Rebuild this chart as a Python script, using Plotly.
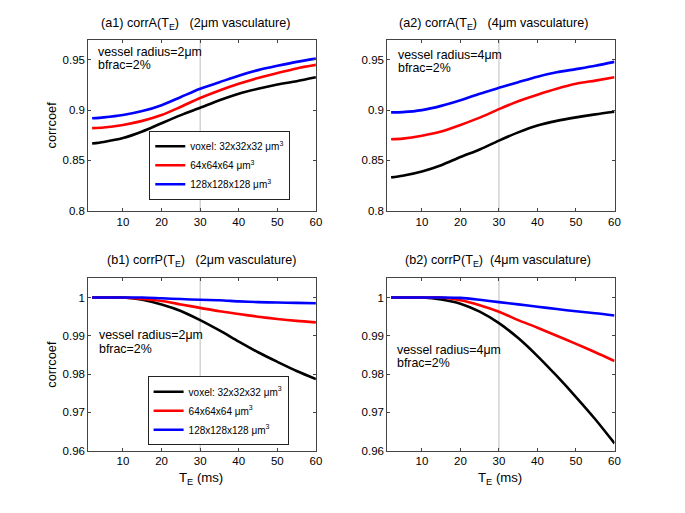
import plotly.graph_objects as go

# ---------------- data ----------------
TE = [2, 5, 10, 15, 20, 25, 30, 35, 40, 45, 50, 55, 60]
XTICKS = [10, 20, 30, 40, 50, 60]
REF_TE = 30

SERIES_NAMES = ["voxel: 32x32x32 \u03bcm<sup>3</sup>",
                "64x64x64 \u03bcm<sup>3</sup>",
                "128x128x128 \u03bcm<sup>3</sup>"]

# (a1) corrA, 2um vasculature
a1_v32 = [0.8668, 0.8684, 0.8723, 0.8788, 0.8870, 0.8950, 0.9023, 0.9098, 0.9163, 0.9212, 0.9254, 0.9287, 0.9326]
a1_v64 = [0.8821, 0.8827, 0.8853, 0.8893, 0.8951, 0.9033, 0.9120, 0.9195, 0.9261, 0.9319, 0.9368, 0.9414, 0.9449]
a1_v128 = [0.8919, 0.8928, 0.8951, 0.8990, 0.9049, 0.9130, 0.9212, 0.9277, 0.9342, 0.9397, 0.9440, 0.9479, 0.9511]

# (a2) corrA, 4um vasculature
a2_v32 = [0.8332, 0.8349, 0.8391, 0.8453, 0.8534, 0.8609, 0.8697, 0.8779, 0.8847, 0.8893, 0.8928, 0.8958, 0.8984]
a2_v64 = [0.8710, 0.8717, 0.8746, 0.8788, 0.8853, 0.8925, 0.9010, 0.9088, 0.9153, 0.9212, 0.9261, 0.9293, 0.9326]
a2_v128 = [0.8977, 0.8980, 0.9000, 0.9042, 0.9098, 0.9163, 0.9221, 0.9277, 0.9332, 0.9375, 0.9407, 0.9440, 0.9479]

# (b1) corrP, 2um vasculature
b1_v32 = [1.0, 1.0, 1.0, 0.9994, 0.9982, 0.9965, 0.9941, 0.9914, 0.9885, 0.9857, 0.9832, 0.9808, 0.9787]
b1_v64 = [1.0, 1.0, 1.0, 0.9996, 0.9991, 0.9982, 0.9973, 0.9964, 0.9957, 0.9950, 0.9944, 0.9939, 0.9935]
b1_v128 = [1.0, 1.0, 1.0, 1.0, 0.9998, 0.9996, 0.9994, 0.9993, 0.9990, 0.9988, 0.9987, 0.9986, 0.9985]

# (b2) corrP, 4um vasculature
b2_v32 = [1.0, 1.0, 1.0, 0.9995, 0.9984, 0.9963, 0.9933, 0.9894, 0.9847, 0.9795, 0.9740, 0.9682, 0.9619]
b2_v64 = [1.0, 1.0, 1.0, 1.0, 0.9993, 0.9980, 0.9963, 0.9941, 0.9921, 0.9900, 0.9879, 0.9857, 0.9834]
b2_v128 = [1.0, 1.0, 1.0, 1.0, 0.9999, 0.9994, 0.9988, 0.9982, 0.9976, 0.9970, 0.9964, 0.9959, 0.9953]

A_TICKS = [0.8, 0.85, 0.9, 0.95]
A_TICKTEXT = ["0.8", "0.85", "0.9", "0.95"]
P_TICKS = [0.96, 0.97, 0.98, 0.99, 1.0]
P_TICKTEXT = ["0.96", "0.97", "0.98", "0.99", "1"]

COLORS = ["#000000", "#ff0000", "#0000ff"]
FONT = "Arial, 'Liberation Sans', sans-serif"

# The page body has a default 8px margin; the figure is sized so that it
# fits the 685x513 window and positions are given in window pixels.
OFF = 8
FW, FH = 685 - 2 * OFF, 513 - 2 * OFF


def px_x(px):
    return (px - OFF) / FW


def px_y(py):
    return 1 - (py - OFF) / FH


# panel pixel boxes in window coordinates (left, right, top, bottom)
panels = {
    "a1": (89, 318.7, 40, 213.3),
    "a2": (390.7, 620, 40, 213.3),
    "b1": (89, 318.7, 281.7, 456),
    "b2": (390.7, 620, 281.7, 456),
}

fig = go.Figure()

panel_data = [
    ("a1", "x", "y", [a1_v32, a1_v64, a1_v128], "legend"),
    ("a2", "x2", "y2", [a2_v32, a2_v64, a2_v128], None),
    ("b1", "x3", "y3", [b1_v32, b1_v64, b1_v128], "legend2"),
    ("b2", "x4", "y4", [b2_v32, b2_v64, b2_v128], None),
]

for key, xa, ya, series, leg in panel_data:
    for name, vals, col in zip(SERIES_NAMES, series, COLORS):
        fig.add_trace(go.Scatter(
            x=TE, y=vals, mode="lines", name=name,
            line=dict(color=col, width=2.6, shape="spline", smoothing=0.8),
            xaxis=xa, yaxis=ya,
            showlegend=leg is not None,
            legend=leg if leg else "legend",
        ))

axis_common = dict(
    showline=True, linecolor="#444", linewidth=1, mirror="ticks",
    ticks="inside", ticklen=3, tickcolor="#444",
    showgrid=False, zeroline=False,
    tickfont=dict(family=FONT, size=11.5, color="#000"),
)

layout = dict(
    width=FW, height=FH,
    margin=dict(l=0, r=0, t=0, b=0),
    paper_bgcolor="white", plot_bgcolor="white",
    font=dict(family=FONT, size=12, color="#000"),
)

names = [("a1", "xaxis", "yaxis", "x", "y", "A"),
         ("a2", "xaxis2", "yaxis2", "x2", "y2", "A"),
         ("b1", "xaxis3", "yaxis3", "x3", "y3", "P"),
         ("b2", "xaxis4", "yaxis4", "x4", "y4", "P")]

for key, xn, yn, xr, yr, kind in names:
    l, r, t, b = panels[key]
    layout[xn] = dict(axis_common, domain=[px_x(l), px_x(r)], range=[1, 60],
                      tickvals=XTICKS, anchor=yr)
    if kind == "A":
        layout[yn] = dict(axis_common, domain=[px_y(b), px_y(t)], range=[0.8, 0.97],
                          tickvals=A_TICKS, ticktext=A_TICKTEXT, anchor=xr)
    else:
        layout[yn] = dict(axis_common, domain=[px_y(b), px_y(t)], range=[0.96, 1.005],
                          tickvals=P_TICKS, ticktext=P_TICKTEXT, anchor=xr)

legend_common = dict(
    bgcolor="white", bordercolor="#222", borderwidth=1,
    font=dict(family=FONT, size=10, color="#000"),
    xanchor="center", yanchor="middle", tracegroupgap=0,
    itemwidth=30,
)
layout["legend"] = dict(legend_common, x=px_x(221.7), y=px_y(167.2))
layout["legend2"] = dict(legend_common, x=px_x(220), y=px_y(415.7))

fig.update_layout(**layout)

# reference line at TE = 30 in each panel
for xr, yr in [("x", "y"), ("x2", "y2"), ("x3", "y3"), ("x4", "y4")]:
    fig.add_shape(type="line", xref=xr, yref=yr + " domain",
                  x0=REF_TE, x1=REF_TE, y0=0, y1=1,
                  line=dict(color="#bdbdbd", width=1), layer="below")

NB = "\u00a0"
titles = [
    ("(a1) corrA(T<sub>E</sub>)" + NB * 3 + "(2\u03bcm vasculature)", 198, 24.5),
    ("(a2) corrA(T<sub>E</sub>)" + NB * 3 + "(4\u03bcm vasculature)", 498.5, 24.5),
    ("(b1) corrP(T<sub>E</sub>)" + NB * 3 + "(2\u03bcm vasculature)", 203.6, 264.5),
    ("(b2) corrP(T<sub>E</sub>)" + NB * 2 + "(4\u03bcm vasculature)", 502, 264.5),
]
for txt, px, py in titles:
    fig.add_annotation(text=txt, xref="paper", yref="paper",
                       x=px_x(px), y=px_y(py), xanchor="center", yanchor="middle",
                       showarrow=False, font=dict(family=FONT, size=12.6, color="#000"))

# (line1, line2, x, y_line1, y_line2)
info = [
    ("vessel radius=2\u03bcm", "bfrac=2%", 96.7, 52.3, 66.0),
    ("vessel radius=4\u03bcm", "bfrac=2%", 400.0, 55.7, 69.0),
    ("vessel radius=2\u03bcm", "bfrac=2%", 97.7, 339.3, 353.5),
    ("vessel radius=4\u03bcm", "bfrac=2%", 398.3, 353.7, 367.7),
]
for l1, l2, px, py1, py2 in info:
    for txt, py in [(l1, py1), (l2, py2)]:
        fig.add_annotation(text=txt, xref="paper", yref="paper",
                           x=px_x(px), y=px_y(py), xanchor="left", yanchor="middle",
                           align="left", showarrow=False,
                           font=dict(family=FONT, size=12.4, color="#000"))

for py in [126.6, 368.8]:
    fig.add_annotation(text="corrcoef", xref="paper", yref="paper",
                       x=px_x(51.7), y=px_y(py), textangle=-90,
                       xanchor="center", yanchor="middle", showarrow=False,
                       font=dict(family=FONT, size=12.8, color="#000"))

for px in [202.5, 504]:
    fig.add_annotation(text="T<sub>E</sub> (ms)", xref="paper", yref="paper",
                       x=px_x(px), y=px_y(484.5), xanchor="center", yanchor="middle",
                       showarrow=False, font=dict(family=FONT, size=13.2, color="#000"))

fig.write_html("out.html")
